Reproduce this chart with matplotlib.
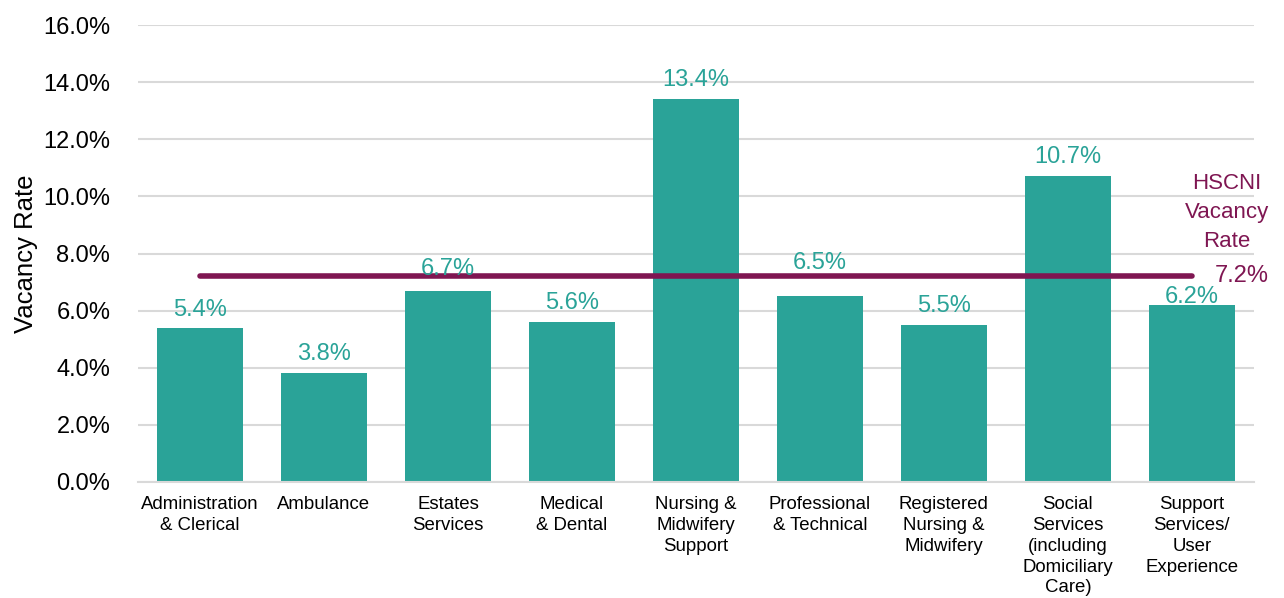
import matplotlib.pyplot as plt
from matplotlib.ticker import PercentFormatter

plt.rcParams['font.family'] = ['Liberation Sans', 'DejaVu Sans']

# data
categories = ['Administration\n& Clerical', 'Ambulance', 'Estates\nServices',
              'Medical\n& Dental', 'Nursing &\nMidwifery\nSupport',
              'Professional\n& Technical', 'Registered\nNursing &\nMidwifery',
              'Social\nServices\n(including\nDomiciliary\nCare)',
              'Support\nServices/\nUser\nExperience']
rates = [5.4, 3.8, 6.7, 5.6, 13.4, 6.5, 5.5, 10.7, 6.2]
hscni_rate = 7.2

# label nudges (points above bar top), hand placed like the original
label_offsets = [5, 6, 8, 6, 6, 16, 6, 6, -2]

teal = '#2AA398'
maroon = '#7F1652'

fig = plt.figure(figsize=(12.84, 5.98), dpi=100)
ax = fig.add_axes([0.1075, 0.194, 0.869, 0.764])

x = range(len(categories))
bars = ax.bar(x, rates, width=0.69, color=teal, zorder=2)

# data labels
for xi, v, off in zip(x, rates, label_offsets):
    ax.annotate(f'{v:.1f}%', (xi, v), xytext=(0, off), textcoords='offset points',
                ha='center', va='bottom', color=teal, fontsize=17, zorder=4)

# overall HSCNI rate line
ax.plot([0, len(categories) - 1], [hscni_rate, hscni_rate], color=maroon,
        lw=4, solid_capstyle='round', zorder=3)
ax.text(len(categories) - 1 + 0.4, hscni_rate, f'{hscni_rate:.1f}%',
        color=maroon, fontsize=17, ha='center', va='center', zorder=4)
ax.text(len(categories) - 1 + 0.28, hscni_rate + 0.85, 'HSCNI\nVacancy\nRate',
        color=maroon, fontsize=16, ha='center', va='bottom', linespacing=1.5)

ax.set_xlim(-0.5, len(categories) - 0.5)
ax.set_ylim(0, 16)
ax.set_yticks(range(0, 17, 2))
ax.yaxis.set_major_formatter(PercentFormatter(decimals=1))
ax.set_xticks(list(x))
ax.set_xticklabels(categories, fontsize=13.4, linespacing=1.3, va='top')
ax.tick_params(axis='x', length=0, pad=10)
ax.tick_params(axis='y', length=0, labelsize=17, pad=20)
ax.set_ylabel('Vacancy Rate', fontsize=18.5, labelpad=4)

ax.grid(axis='y', color='#D9D9D9', lw=1.5, zorder=0)
for s in ['top', 'right', 'left']:
    ax.spines[s].set_visible(False)
ax.spines['bottom'].set_color('#D9D9D9')
ax.spines['bottom'].set_linewidth(1.5)

fig.savefig('out.png', dpi=100)
